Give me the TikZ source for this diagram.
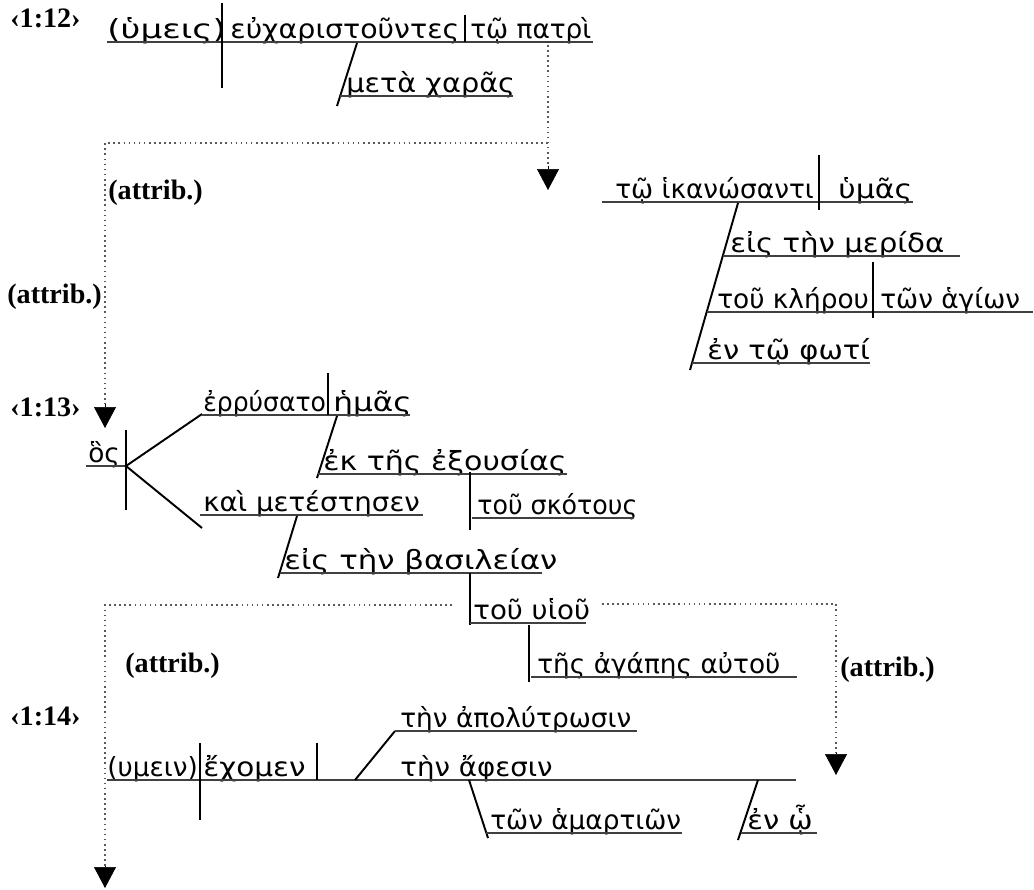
\documentclass[tikz,border=0pt]{standalone}
\usepackage{fontspec}
\usepackage{graphicx}
\setmainfont{Liberation Serif}
\newfontfamily\gkfont{DejaVu Sans}
\usetikzlibrary{arrows.meta}
% squeeze or widen a Greek phrase to the width it has in the diagram
\newcommand{\gkw}[2]{\scalebox{#1}[1]{#2}}

\begin{document}
\begin{tikzpicture}[
    x=0.02cm, y=-0.02cm,
    gk/.style={anchor=base west, inner sep=0pt, font=\gkfont\fontsize{15}{18}\selectfont},
    lbl/.style={anchor=base west, inner sep=0pt, font=\bfseries\fontsize{16}{19}\selectfont},
    uline/.style={line width=0.6pt, black!75},
    bar/.style={line width=1.3pt},
    slant/.style={line width=1.1pt},
    dotline/.style={dotted, line width=0.9pt, black!65},
    tip/.style={-{Triangle[length=0.42cm, width=0.44cm]}}
]
\useasboundingbox (0,0) rectangle (1034,889);

% verse 1:12
\node[lbl] (v12) at (10,28) {‹1:12›};
\node[gk] (hymeis) at (107,38) {\gkw{1.3}{(ὑμεις)}};
\node[gk] (eucharist) at (230,38) {\gkw{1.08}{εὐχαριστοῦντες}};
\node[gk] (patri) at (470,38) {τῷ πατρὶ};
\node[gk] (charas) at (346,92) {\gkw{1.09}{μετὰ χαρᾶς}};
\draw[uline] (107,42) -- (593,42);
\draw[bar] (222,3) -- (222,88);
\draw[bar] (465,15) -- (465,42);
\draw[slant] (357,43) -- (337,106);
\draw[uline] (340,96) -- (513,96);

% attributive links
\coordinate (a1) at (548,45);
\coordinate (a1end) at (548,190);
\coordinate (a1turn) at (548,143);
\coordinate (a2turn) at (105,143);
\coordinate (a2end) at (105,428);
\draw[dotline] (a1) -- (548,166);
\draw[tip] (548,166) -- (a1end);
\draw[dotline] (a1turn) -- (a2turn) -- (105,404);
\draw[tip] (105,404) -- (a2end);
\node[lbl] (attr1) at (108,199) {(attrib.)};
\node[lbl] (attr2) at (7,303) {(attrib.)};

% participle clause
\node[gk] (hikan) at (615,198) {τῷ ἱκανώσαντι};
\node[gk] (hymas) at (838,198) {\gkw{1.14}{ὑμᾶς}};
\node[gk] (merida) at (730,252) {\gkw{1.11}{εἰς τὴν μερίδα}};
\node[gk] (klerou) at (717,308) {τοῦ κλήρου};
\node[gk] (hagion) at (880,308) {τῶν ἁγίων};
\node[gk] (foti) at (707,359) {\gkw{1.1}{ἐν τῷ φωτί}};
\draw[uline] (602,202) -- (913,202);
\draw[bar] (819,155) -- (819,210);
\draw[slant] (738,203) -- (690,370);
\draw[uline] (723,256) -- (960,256);
\draw[uline] (707,312) -- (1033,312);
\draw[bar] (873,262) -- (873,318);
\draw[uline] (692,363) -- (870,363);

% verse 1:13
\node[lbl] (v13) at (10,416) {‹1:13›};
\node[gk] (hos) at (88,462) {ὃς};
\node[gk] (errysato) at (203,411) {\gkw{0.95}{ἐρρύσατο}};
\node[gk] (hemas) at (333,411) {\gkw{1.18}{ἡμᾶς}};
\node[gk] (exousias) at (323,470) {\gkw{1.14}{ἐκ τῆς ἐξουσίας}};
\node[gk] (skotous) at (477,514) {\gkw{0.96}{τοῦ σκότους}};
\node[gk] (metestesen) at (203,511) {\gkw{1.05}{καὶ μετέστησεν}};
\node[gk] (basileian) at (284,569) {\gkw{1.17}{εἰς τὴν βασιλείαν}};
\node[gk] (huiou) at (473,619) {\gkw{1.05}{τοῦ υἱοῦ}};
\node[gk] (agapes) at (537,673) {τῆς ἀγάπης αὐτοῦ};
\coordinate (fork) at (126,466);
\draw[uline] (86,466) -- (fork);
\draw[bar] (126,430) -- (126,510);
\draw[slant] (fork) -- (202,414);
\draw[slant] (fork) -- (202,528);
\draw[uline] (202,415) -- (410,415);
\draw[bar] (328,373) -- (328,415);
\draw[slant] (337,416) -- (317,478);
\draw[uline] (318,474) -- (567,474);
\draw[bar] (470,472) -- (470,530);
\draw[uline] (472,518) -- (634,518);
\draw[uline] (200,515) -- (423,515);
\draw[slant] (297,516) -- (278,578);
\draw[uline] (280,573) -- (542,573);
\draw[bar] (470,573) -- (470,625);
\draw[uline] (470,623) -- (586,623);
\draw[bar] (529,625) -- (529,682);
\draw[uline] (531,677) -- (797,677);

% attributive links to 1:14
\coordinate (b1) at (452,605);
\coordinate (b1turn) at (105,605);
\coordinate (b1end) at (105,888);
\coordinate (b2) at (602,604);
\coordinate (b2turn) at (836,604);
\coordinate (b2end) at (836,775);
\draw[dotline] (b1) -- (b1turn) -- (105,866);
\draw[tip] (105,866) -- (b1end);
\draw[dotline] (b2) -- (b2turn) -- (836,753);
\draw[tip] (836,753) -- (b2end);
\node[lbl] (attr3) at (125,672) {(attrib.)};
\node[lbl] (attr4) at (840,676) {(attrib.)};

% verse 1:14
\node[lbl] (v14) at (10,725) {‹1:14›};
\node[gk] (hymein) at (107,776) {(υμειν)};
\node[gk] (echomen) at (203,776) {\gkw{1.12}{ἔχομεν}};
\node[gk] (apolytr) at (400,727) {τὴν ἀπολύτρωσιν};
\node[gk] (afesin) at (400,776) {\gkw{1.05}{τὴν ἄφεσιν}};
\node[gk] (hamart) at (490,829) {τῶν ἁμαρτιῶν};
\node[gk] (enho) at (747,829) {\gkw{1.1}{ἐν ᾧ}};
\draw[uline] (107,780) -- (796,780);
\draw[bar] (200,743) -- (200,820);
\draw[bar] (317,743) -- (317,780);
\draw[slant] (355,780) -- (395,731);
\draw[uline] (395,731) -- (637,731);
\draw[slant] (469,780) -- (488,838);
\draw[uline] (486,833) -- (682,833);
\draw[slant] (758,780) -- (738,840);
\draw[uline] (741,833) -- (817,833);
\end{tikzpicture}
\end{document}
